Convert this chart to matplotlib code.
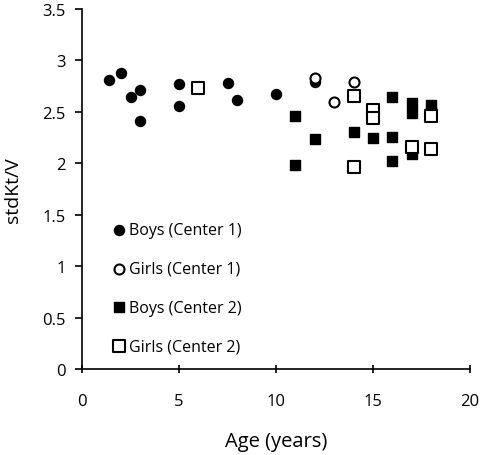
import matplotlib
matplotlib.use('Agg')
import matplotlib.pyplot as plt

plt.rcParams['font.family'] = ['Open Sans', 'DejaVu Sans']

# Data
boys_c1_age = [1.4, 2.0, 2.5, 3.0, 3.0, 5.0, 5.0, 7.5, 8.0, 10.0, 12.0]
boys_c1_ktv = [2.81, 2.88, 2.64, 2.71, 2.41, 2.77, 2.56, 2.78, 2.62, 2.67, 2.79]

girls_c1_age = [12.0, 13.0, 14.0]
girls_c1_ktv = [2.83, 2.60, 2.79]

boys_c2_age = [11, 11, 12, 14, 15, 16, 16, 16, 17, 17, 17, 18, 18]
boys_c2_ktv = [2.46, 1.98, 2.24, 2.30, 2.25, 2.64, 2.26, 2.02, 2.59, 2.49, 2.09, 2.57, 2.50]

girls_c2_age = [6, 14, 14, 15, 15, 17, 18, 18]
girls_c2_ktv = [2.73, 2.65, 1.96, 2.52, 2.44, 2.16, 2.46, 2.14]

fig = plt.figure(figsize=(4.8, 4.56), dpi=100)
ax = fig.add_axes([0.171, 0.1886, 0.808, 0.7894])

ms = 52
ax.scatter(boys_c1_age, boys_c1_ktv, s=ms, marker='o', color='black', label='Boys (Center 1)', zorder=3)
ax.scatter(girls_c1_age, girls_c1_ktv, s=ms, marker='o', facecolor='white', edgecolor='black',
           linewidths=1.5, label='Girls (Center 1)', zorder=4)
ax.scatter(boys_c2_age, boys_c2_ktv, s=ms, marker='s', color='black', label='Boys (Center 2)', zorder=3)
ax.scatter(girls_c2_age, girls_c2_ktv, s=ms + 20, marker='s', facecolor='white', edgecolor='black',
           linewidths=1.5, label='Girls (Center 2)', zorder=4)

ax.set_xlim(0, 20)
ax.set_ylim(0, 3.5)
ax.set_xticks([0, 5, 10, 15, 20])
ax.set_yticks([0, 0.5, 1, 1.5, 2, 2.5, 3, 3.5])
ax.set_yticklabels(['0', '0.5', '1', '1.5', '2', '2.5', '3', '3.5'])
for s in ['top', 'right']:
    ax.spines[s].set_visible(False)
for s in ['left', 'bottom']:
    ax.spines[s].set_linewidth(1.2)
ax.tick_params(axis='y', direction='out', length=5, width=1.2, labelsize=12, pad=7)
ax.tick_params(axis='x', direction='inout', length=6, width=1.2, labelsize=12, pad=14)

ax.set_xlabel('Age (years)', fontsize=14.5, labelpad=16)
ax.set_ylabel('stdKt/V', fontsize=14, labelpad=14)

ax.legend(loc='upper left', bbox_to_anchor=(0.06, 0.43), frameon=False, fontsize=11.5,
          handlelength=0.7, handletextpad=0.3, labelspacing=1.42, borderpad=0)

fig.savefig('out.png', dpi=100)
